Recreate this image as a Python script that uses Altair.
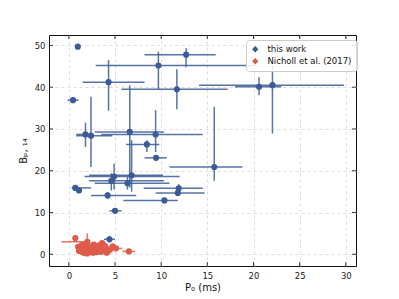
import altair as alt
import pandas as pd

# ---- data: this work ----
P_tw = [0.97, 12.7, 9.7, 4.3, 11.7, 0.45, 20.6, 22.05, 15.75, 1.8, 2.4, 6.6, 9.4, 8.45,
        9.45, 6.8, 4.9, 4.6, 6.35, 11.9, 11.8, 0.7, 1.1, 4.2, 10.35, 5.0, 4.4, 4.1]
B_tw = [49.7, 47.8, 45.2, 41.2, 39.5, 36.9, 40.1, 40.5, 20.9, 28.7, 28.4, 29.3, 28.7, 26.3,
        23.1, 18.9, 18.6, 17.6, 17.0, 15.8, 14.7, 15.9, 15.3, 14.1, 12.9, 10.4, 3.6, 1.0]
P_tw_lo = [0.97, 8.2, 2.9, 1.5, 5.7, -0.15, 18.0, 14.1, 10.9, 0.8, 0.8, 2.8, 3.5, 6.2,
           8.2, 2.2, 1.7, 2.2, 2.8, 8.1, 9.4, 0.3, 1.1, 2.4, 5.9, 4.4, 3.8, 3.5]
P_tw_hi = [0.97, 15.9, 20.4, 8.2, 17.2, 1.05, 23.0, 29.8, 18.8, 2.6, 4.7, 10.3, 14.5, 9.8,
           10.6, 10.2, 12.0, 10.3, 10.9, 14.5, 14.7, 2.4, 1.1, 7.3, 11.8, 5.7, 5.0, 4.7]
B_tw_lo = [49.7, 44.8, 39.6, 34.4, 34.7, 36.9, 38.1, 28.9, 17.6, 25.7, 20.9, 16.0, 24.5, 24.5,
           22.5, 15.0, 15.5, 15.3, 15.5, 14.0, 14.0, 15.9, 15.3, 13.3, 12.9, 10.4, 2.8, 1.0]
B_tw_hi = [49.7, 49.3, 48.5, 46.5, 44.3, 36.9, 42.4, 45.3, 35.3, 31.5, 37.7, 40.5, 34.5, 27.3,
           23.7, 27.3, 21.7, 19.4, 18.7, 16.8, 15.4, 15.9, 15.3, 14.9, 12.9, 10.4, 4.4, 1.0]

# ---- data: Nicholl et al. (2017) ----
P_n = [0.7, 2.0, 3.6, 4.75, 5.1, 6.5, 1.2, 1.5, 1.8, 2.2, 2.5, 2.8, 3.1, 3.4, 3.8, 4.1, 1.0, 1.4,
       1.7, 2.1, 2.4, 2.7, 3.0, 3.3, 3.7, 4.3, 1.3, 1.9, 2.6, 3.2, 4.0, 1.6, 2.3, 2.9, 3.5, 1.1,
       2.0, 4.5, 3.9, 2.7]
B_n = [3.9, 3.0, 2.7, 1.9, 1.4, 0.7, 1.0, 0.5, 1.6, 0.8, 1.9, 1.2, 0.6, 1.5, 0.9, 0.4, 1.8, 2.2,
       0.3, 1.4, 0.6, 2.3, 1.7, 0.9, 1.3, 0.8, 1.3, 2.5, 0.4, 2.1, 1.6, 1.1, 1.3, 0.5, 0.6, 0.8,
       0.2, 1.2, 2.0, 1.0]
P_n_err = [0.2, 0.3, 0.4, 0.3, 0.7, 0.7, 0.3, 0.2, 0.3, 0.4, 0.3, 0.5, 0.3, 0.4, 0.3, 0.3, 0.2, 0.3,
           0.2, 0.3, 0.4, 0.3, 0.3, 0.4, 0.3, 0.3, 0.2, 0.3, 0.3, 0.4, 0.3, 0.2, 0.3, 0.3, 0.3, 0.2,
           0.3, 0.3, 0.3, 0.3]
B_n_err = [0.2, 2.0, 0.3, 0.3, 0.2, 0.2, 0.3, 0.3, 0.4, 0.3, 0.4, 0.3, 0.3, 0.4, 0.3, 0.2, 0.3, 0.4,
           0.2, 0.3, 0.3, 0.4, 0.3, 0.3, 0.3, 0.2, 0.3, 0.5, 0.2, 0.4, 0.3, 0.3, 0.3, 0.2, 0.3, 0.2,
           0.2, 0.3, 0.3, 0.3]
P_n_lo_override = {1: -0.8}

x_ticks = [0, 5, 10, 15, 20, 25, 30]
y_ticks = [0, 10, 20, 30, 40, 50]

SERIES = ["this work", "Nicholl et al. (2017)"]
COLORS = ["#3b5b97", "#de5a4a"]

rows = []
for i in range(len(P_tw)):
    rows.append(dict(s=SERIES[0], P=P_tw[i], B=B_tw[i], Plo=P_tw_lo[i], Phi=P_tw_hi[i],
                     Blo=B_tw_lo[i], Bhi=B_tw_hi[i]))
for i in range(len(P_n)):
    plo = P_n_lo_override.get(i, P_n[i] - P_n_err[i])
    rows.append(dict(s=SERIES[1], P=P_n[i], B=B_n[i], Plo=plo, Phi=P_n[i] + P_n_err[i],
                     Blo=B_n[i] - B_n_err[i], Bhi=B_n[i] + B_n_err[i]))
df = pd.DataFrame(rows)
df["order"] = df["s"].map({SERIES[0]: 0, SERIES[1]: 1})

W, H = 307, 231
FONT = "DejaVu Sans"

xscale = alt.Scale(domain=[-2.15, 31.1], nice=False, zero=False)
yscale = alt.Scale(domain=[-2.8, 52.5], nice=False, zero=False)
xaxis = alt.Axis(values=x_ticks, title="P₀ (ms)", ticks=False, domain=False, grid=True,
                 gridDash=[3, 3], gridColor="#d6d6d6", gridWidth=0.8, labelFontSize=8.5,
                 labelFont=FONT, labelColor="#222222", labelPadding=5, titleFont=FONT,
                 titleFontSize=10, titleFontWeight="normal", titleColor="#111111",
                 titlePadding=3)
yaxis = alt.Axis(values=y_ticks, title="Bₚ, ₁₄", ticks=False, domain=False, grid=True,
                 gridDash=[3, 3], gridColor="#d6d6d6", gridWidth=0.8, labelFontSize=8.5,
                 labelFont=FONT, labelColor="#222222", labelPadding=4, titleFont=FONT,
                 titleFontSize=10, titleFontWeight="normal", titleColor="#111111",
                 titlePadding=6)
legend = alt.Legend(title=None, orient="none", legendX=197, legendY=5,
                    symbolType="diamond", symbolSize=40, labelFont=FONT,
                    labelFontSize=8.5, labelColor="#111111", padding=5, labelOffset=8,
                    rowPadding=3, fillColor="rgba(255,255,255,0.85)",
                    strokeColor="#cccccc", cornerRadius=3, symbolStrokeWidth=0,
                    symbolOpacity=1)
color = alt.Color("s:N", scale=alt.Scale(domain=SERIES, range=COLORS), legend=legend)

base = alt.Chart(df)
hbar = base.mark_rule(strokeWidth=1.5, opacity=0.85).encode(
    x=alt.X("Plo:Q", scale=xscale, axis=xaxis), x2="Phi:Q",
    y=alt.Y("B:Q", scale=yscale, axis=yaxis), color=color)
vbar = base.mark_rule(strokeWidth=1.5, opacity=0.85).encode(
    x=alt.X("P:Q", scale=xscale, axis=xaxis),
    y=alt.Y("Blo:Q", scale=yscale, axis=yaxis), y2="Bhi:Q", color=color)
pts = base.mark_circle(size=38, opacity=1).encode(
    x=alt.X("P:Q", scale=xscale, axis=xaxis),
    y=alt.Y("B:Q", scale=yscale, axis=yaxis), color=color,
    order=alt.Order("order:Q"))

xt = pd.DataFrame({"t": x_ticks})
yt = pd.DataFrame({"t": y_ticks})
tick_style = dict(color="#222222", strokeWidth=0.9)
xb = alt.Chart(xt).mark_rule(**tick_style).encode(
    x=alt.X("t:Q", scale=xscale, axis=xaxis), y=alt.value(H), y2=alt.value(H - 4))
xtp = alt.Chart(xt).mark_rule(**tick_style).encode(
    x=alt.X("t:Q", scale=xscale, axis=xaxis), y=alt.value(0), y2=alt.value(4))
yl = alt.Chart(yt).mark_rule(**tick_style).encode(
    y=alt.Y("t:Q", scale=yscale, axis=yaxis), x=alt.value(0), x2=alt.value(4))
yr = alt.Chart(yt).mark_rule(**tick_style).encode(
    y=alt.Y("t:Q", scale=yscale, axis=yaxis), x=alt.value(W), x2=alt.value(W - 4))

chart = alt.layer(hbar, vbar, pts, xb, xtp, yl, yr).properties(
    width=W, height=H, autosize=alt.AutoSizeParams(type="none"),
    background="white",
    padding={"left": 41, "top": 27, "right": 30, "bottom": 30}
).configure_view(stroke="#111111", strokeWidth=1)

chart.save("out.html", embed_options={"renderer": "svg", "actions": False})
